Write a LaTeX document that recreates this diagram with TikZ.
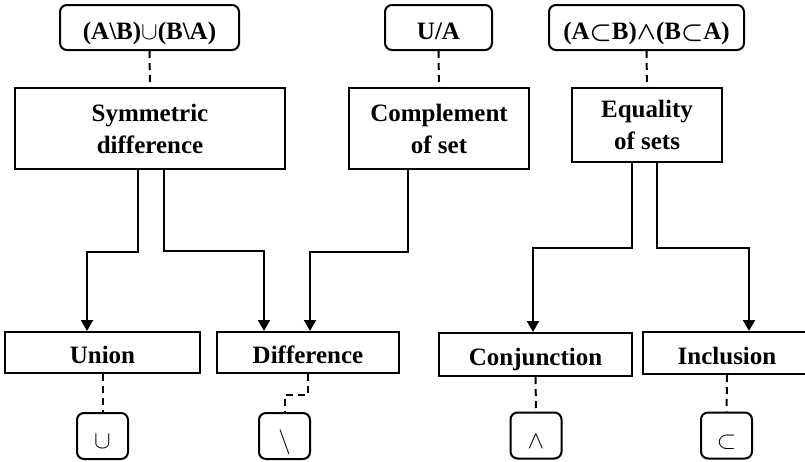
\documentclass[tikz,border=0pt]{standalone}
\usepackage{fontspec}
\setmainfont{Liberation Serif}
\usetikzlibrary{arrows.meta}
\begin{document}
\begin{tikzpicture}[x=1pt,y=-1pt,
  every node/.style={draw, inner sep=0pt, line width=2pt, align=center,
    font=\fontsize{25}{32}\selectfont\bfseries},
  formbox/.style={rounded corners=7pt, minimum height=45pt, text height=24pt, text depth=0pt},
  conceptbox/.style={},
  leafbox/.style={text height=22pt, text depth=0pt},
  symbox/.style={rounded corners=7pt, minimum width=51pt, minimum height=46pt,
    text height=25pt, text depth=0pt, font=\fontsize{28}{30}\selectfont},
  link/.style={line width=2pt, dash pattern=on 7pt off 5pt},
  flow/.style={line width=2pt, -{Triangle[width=12pt,length=11pt]}},
]
\useasboundingbox (0,0) rectangle (805,461);

% formulas on top
\node[formbox, minimum width=179pt] (f1) at (149.5,27.5)
  {(A\textbackslash B)$\cup$(B\textbackslash A)};
\node[formbox, minimum width=107pt] (f2) at (438.5,27.5) {U/A};
\node[formbox, minimum width=195pt] (f3) at (646.5,27.5)
  {(A{\boldmath$\subset$}B){\boldmath$\wedge$}(B{\boldmath$\subset$}A)};

% operations on sets
\node[conceptbox, minimum width=270pt, minimum height=81pt] (sym) at (150,128.5)
  {Symmetric\\difference};
\node[conceptbox, minimum width=180pt, minimum height=81pt] (comp) at (439,128.5)
  {Complement\\of set};
\node[conceptbox, minimum width=150pt, minimum height=74pt] (eq) at (647,125)
  {Equality\\of sets};

% basic operations
\node[leafbox, minimum width=195pt, minimum height=41pt] (union) at (102.5,352.5) {Union};
\node[leafbox, minimum width=182pt, minimum height=41pt] (diff) at (308,352.5) {Difference};
\node[leafbox, minimum width=193pt, minimum height=43pt] (conj) at (535.5,354.5) {Conjunction};
\node[leafbox, minimum width=168pt, minimum height=42pt] (incl) at (727,353) {Inclusion};

% symbols
\node[symbox] (s1) at (102.5,436) {$\cup$};
\node[symbox] (s2) at (284.5,436) {$\setminus$};
\node[symbox] (s3) at (536,435.5) {$\wedge$};
\node[symbox] (s4) at (726.5,435.5) {$\subset$};

% dashed links between notions and notations
\draw[link] (f1.south) -- (sym.north);
\draw[link] (f2.south) -- (comp.north);
\draw[link] (f3.south) -- (eq.north);
\draw[link] (union.south) -- (s1.north);
\draw[link] (diff.south) -- ++(0,21) -| (s2.north);
\draw[link] (conj.south) -- (s3.north);
\draw[link] (incl.south) -- (s4.north);

% flow arrows
\draw[flow] ([xshift=-12pt]sym.south) -- ++(0,82) -| ([xshift=-15.5pt]union.north);
\draw[flow] ([xshift=14pt]sym.south) -- ++(0,81) -| ([xshift=-44pt]diff.north);
\draw[flow] ([xshift=-31pt]comp.south) -- ++(0,82) -| ([xshift=2pt]diff.north);
\draw[flow] ([xshift=-15pt]eq.south) -- ++(0,85) -| ([xshift=-2.5pt]conj.north);
\draw[flow] ([xshift=10pt]eq.south) -- ++(0,85) -| ([xshift=22pt]incl.north);
\end{tikzpicture}
\end{document}
